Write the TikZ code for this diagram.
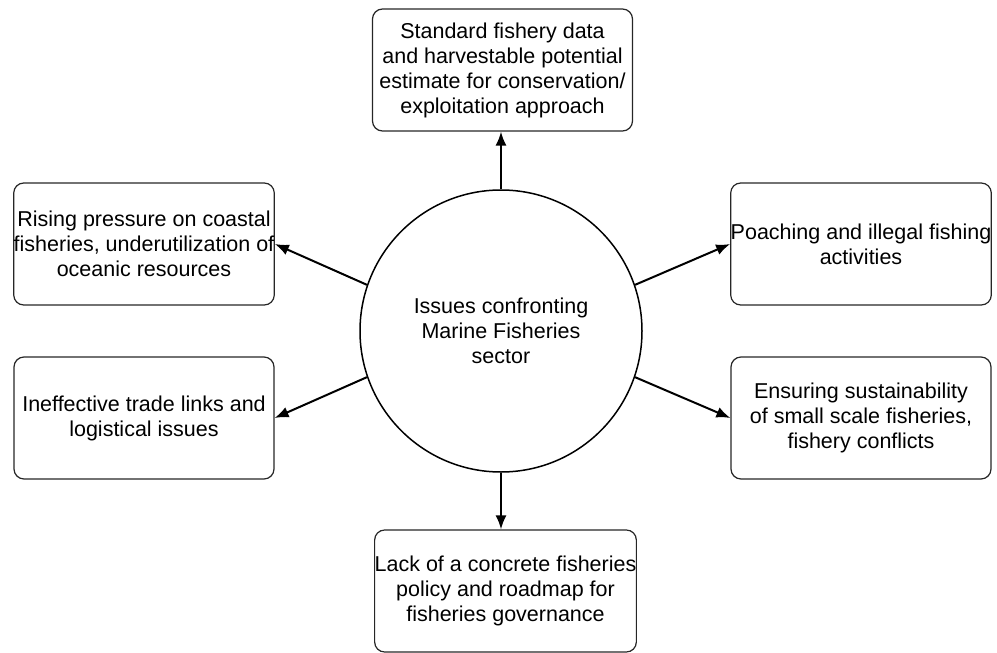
\documentclass[tikz,border=0pt]{standalone}
\usepackage{fontspec}
\setmainfont{Liberation Sans}
\usetikzlibrary{arrows.meta}
\newcommand{\bw}{260pt}
\newcommand{\bh}{122pt}

\begin{document}
\begin{tikzpicture}[x=1pt, y=-1pt,
    font=\fontsize{21.5}{25}\selectfont,
    box/.style={draw=black!85, rectangle, rounded corners=10pt, minimum width=\bw, minimum height=\bh, align=center, inner sep=0pt, line width=1.2pt},
    hub/.style={draw, circle, minimum size=282pt, align=center, inner sep=0pt, line width=1.5pt},
    link/.style={-{Latex[length=14pt,width=11pt]}, line width=2pt}]
    \useasboundingbox (0,0) rectangle (997,653);

    % Centre
    \node[hub] (hub) at (501,331) {Issues confronting\\Marine Fisheries\\sector};

    % Top and bottom
    \node[box] (box-top) at (502.5,70) {Standard fishery data\\and harvestable potential\\estimate for conservation/\\exploitation approach};
    \node[box] (box-bottom) at (505.5,591) {Lack of a concrete fisheries\\policy and roadmap for\\fisheries governance};

    % Left column
    \node[box] (box-1-1) at (144,244) {Rising pressure on coastal\\fisheries, underutilization of\\oceanic resources};
    \node[box] (box-2-1) at (144,418) {Ineffective trade links and\\logistical issues};

    % Right column
    \node[box] (box-1-2) at (861,244) {Poaching and illegal fishing\\activities};
    \node[box] (box-2-2) at (861,418) {Ensuring sustainability\\of small scale fisheries,\\fishery conflicts};

    % Arrows
    \draw[link] (hub.north) -- (hub.north |- box-top.south);
    \draw[link] (hub.south) -- (hub.south |- box-bottom.north);
    \draw[link] (hub.161) -- (box-1-1.east);
    \draw[link] (hub.199) -- (box-2-1.east);
    \draw[link] (hub.19) -- (box-1-2.west);
    \draw[link] (hub.341) -- (box-2-2.west);

\end{tikzpicture}
\end{document}
